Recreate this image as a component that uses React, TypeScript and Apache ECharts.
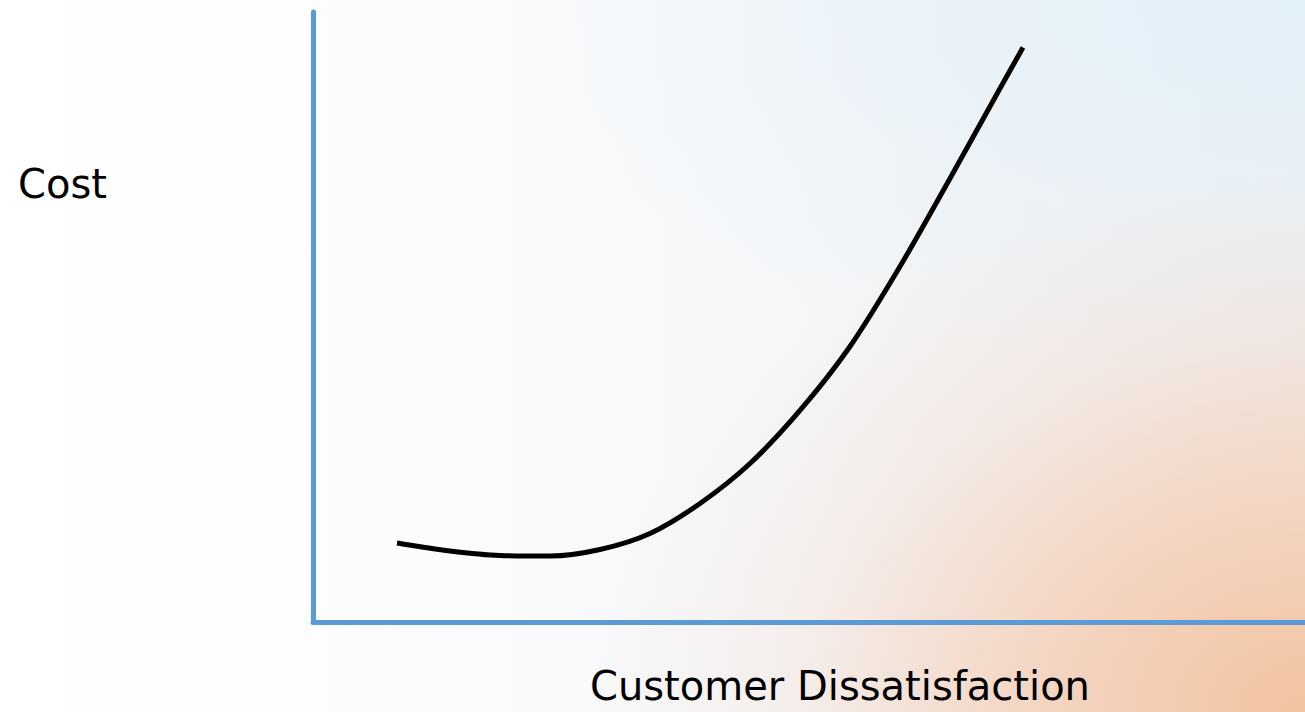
import React, { useEffect, useRef } from "react";
import * as echarts from "echarts";

const curveX = [8.47, 13.81, 18.85, 23.89, 28.93, 33.97, 39.01, 44.05, 49.09, 54.13, 59.17, 64.21, 69.25, 71.57];
const curveY = [13.02, 11.71, 10.97, 10.89, 11.96, 14.58, 19.49, 26.04, 34.73, 45.21, 58.31, 72.73, 87.47, 94.19];
const yLabel = "Cost";
const xLabel = "Customer Dissatisfaction";

export default function App() {
  const ref = useRef<HTMLDivElement>(null);
  useEffect(() => {
    if (!ref.current) return;
    const chart = echarts.init(ref.current, undefined, { renderer: "svg" });
    const axisStyle = {
      show: true,
      lineStyle: { color: "#5b9bd5", width: 5 },
    };
    chart.setOption({
      animation: false,
      backgroundColor: "transparent",
      grid: { left: 313, right: 0, top: 12, bottom: 89.5 },
      xAxis: {
        type: "value",
        min: 0,
        max: 100,
        axisLine: axisStyle,
        axisTick: { show: false },
        axisLabel: { show: false },
        splitLine: { show: false },
      },
      yAxis: {
        type: "value",
        min: 0,
        max: 100,
        axisLine: axisStyle,
        axisTick: { show: false },
        axisLabel: { show: false },
        splitLine: { show: false },
      },
      series: [
        {
          type: "line",
          data: curveX.map((x, i) => [x, curveY[i]]),
          smooth: 0.3,
          showSymbol: false,
          lineStyle: { color: "#000000", width: 5 },
        },
      ],
      graphic: [
        {
          type: "text",
          left: 18,
          top: 164,
          style: {
            text: yLabel,
            font: "40px 'DejaVu Sans'",
            fill: "#000000",
          },
        },
        {
          type: "text",
          left: 590,
          top: 666,
          style: {
            text: xLabel,
            font: "40px 'DejaVu Sans'",
            fill: "#000000",
          },
        },
      ],
    });
    return () => chart.dispose();
  }, []);
  return (
    <div
      style={{
        position: "fixed",
        left: 0,
        top: 0,
        width: 1305,
        height: 712,
        background:
          "radial-gradient(ellipse 55% 75% at 100% 100%, rgba(242,195,160,1) 0%, rgba(244,205,180,0.8) 35%, rgba(244,215,200,0.3) 70%, rgba(244,220,210,0) 100%), radial-gradient(ellipse 60% 55% at 100% 0%, rgba(226,240,250,1) 0%, rgba(230,242,250,0.7) 45%, rgba(235,244,250,0) 100%), linear-gradient(90deg, #ffffff 0%, #fbfcfd 30%, #f5f7f9 60%, #efebea 100%)",
      }}
    >
      <div ref={ref} style={{ width: 1305, height: 712 }} />
    </div>
  );
}
